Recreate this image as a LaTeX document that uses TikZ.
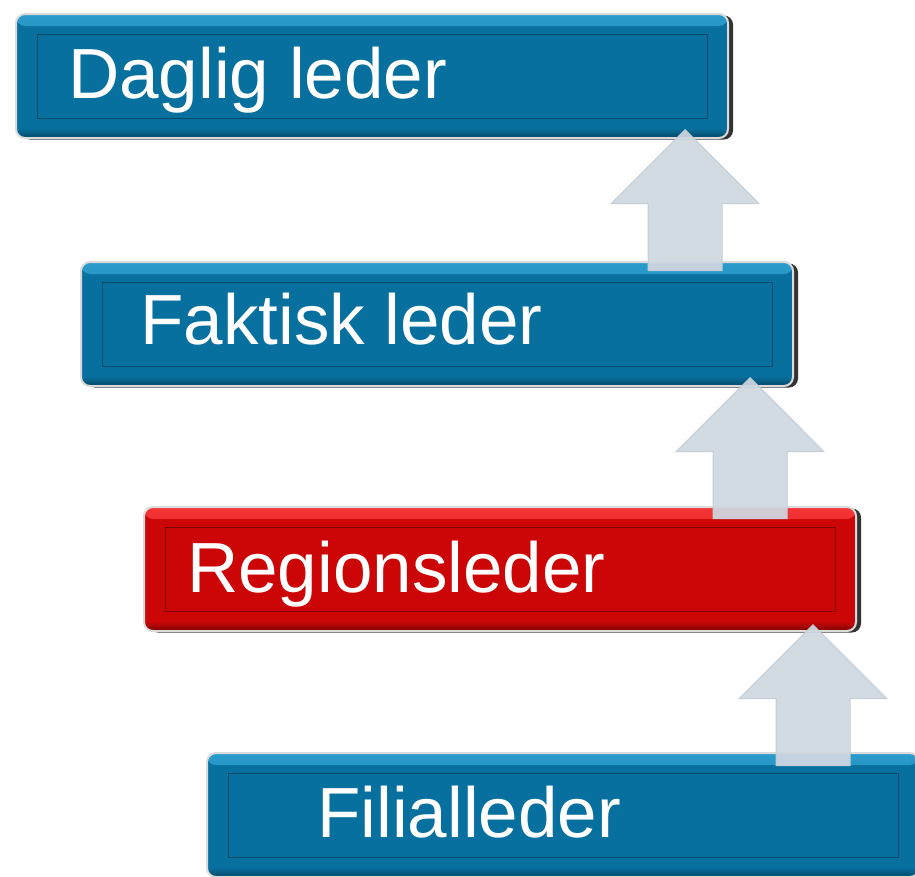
\documentclass[tikz,border=0pt]{standalone}
\usepackage{fontspec}
\setmainfont{Liberation Sans}
\usetikzlibrary{shapes.arrows,shadows}
\definecolor{tierblue}{HTML}{07709E}
\definecolor{tierbluehi}{HTML}{2A9BCB}
\definecolor{tierbluelo}{HTML}{064A69}
\definecolor{tierred}{HTML}{CC0606}
\definecolor{tierredhi}{HTML}{F53535}
\definecolor{tierredlo}{HTML}{7E0505}
\definecolor{liftgrey}{HTML}{CFD7E0}
\definecolor{liftedge}{HTML}{C3CDD8}

\begin{document}
\begin{tikzpicture}[
        x=1pt, y=-1pt,
        tier/.style={
            rectangle,
            rounded corners=9pt,
            minimum width=712pt,
            minimum height=124pt,
            inner sep=0pt,
            fill=#1,
            draw=black!14,
            line width=2pt,
            general shadow={fill=black!80, shadow xshift=5pt, shadow yshift=-1.5pt},
            path picture={
                \shade[top color=#1hi, bottom color=#1]
                    (path picture bounding box.north west) rectangle ([yshift=-12pt]path picture bounding box.north east);
                \shade[top color=#1, bottom color=#1lo]
                    ([yshift=10pt]path picture bounding box.south west) rectangle (path picture bounding box.south east);
                \draw[#1lo, line width=1pt, sharp corners]
                    ([shift={(21pt,-20pt)}]path picture bounding box.north west) rectangle ([shift={(-21pt,20pt)}]path picture bounding box.south east);
            }
        },
        tier/.default=tierblue,
        title/.style={
            text=white,
            font=\fontsize{71}{71}\selectfont,
            inner sep=0pt,
            anchor=base west
        },
        lift/.style={
            single arrow,
            single arrow head extend=37pt,
            single arrow tip angle=90,
            minimum height=141pt,
            inner xsep=0pt,
            inner ysep=36.5pt,
            fill=liftgrey,
            draw=liftedge,
            line width=1pt,
            fill opacity=0.93,
            rotate=90,
            anchor=tip
        }
    ]
        \useasboundingbox (0,0) rectangle (915,876);
        \clip (0,0) rectangle (915,876);

        % the four levels, top to bottom
        \node[tier] (daglig) at (372,76) {};
        \node[tier] (faktisk) at (437,324) {};
        \node[tier=tierred] (region) at (500,569) {};
        \node[tier] (filial) at (563,815) {};

        \node[title] (dagligtxt) at ([shift={(53pt,-22pt)}]daglig.west) {Daglig leder};
        \node[title] (faktisktxt) at ([shift={(60pt,-20pt)}]faktisk.west) {Faktisk leder};
        \node[title] (regiontxt) at ([shift={(44pt,-23pt)}]region.west) {Regionsleder};
        \node[title] (filialtxt) at ([shift={(111pt,-22pt)}]filial.west) {Filialleder};

        % arrows pointing up to the next level
        \node[lift] (up1) at ([shift={(-44pt,10pt)}]daglig.south east) {};
        \node[lift] (up2) at ([shift={(-44pt,10pt)}]faktisk.south east) {};
        \node[lift] (up3) at ([shift={(-44pt,8pt)}]region.south east) {};
    \end{tikzpicture}
\end{document}
